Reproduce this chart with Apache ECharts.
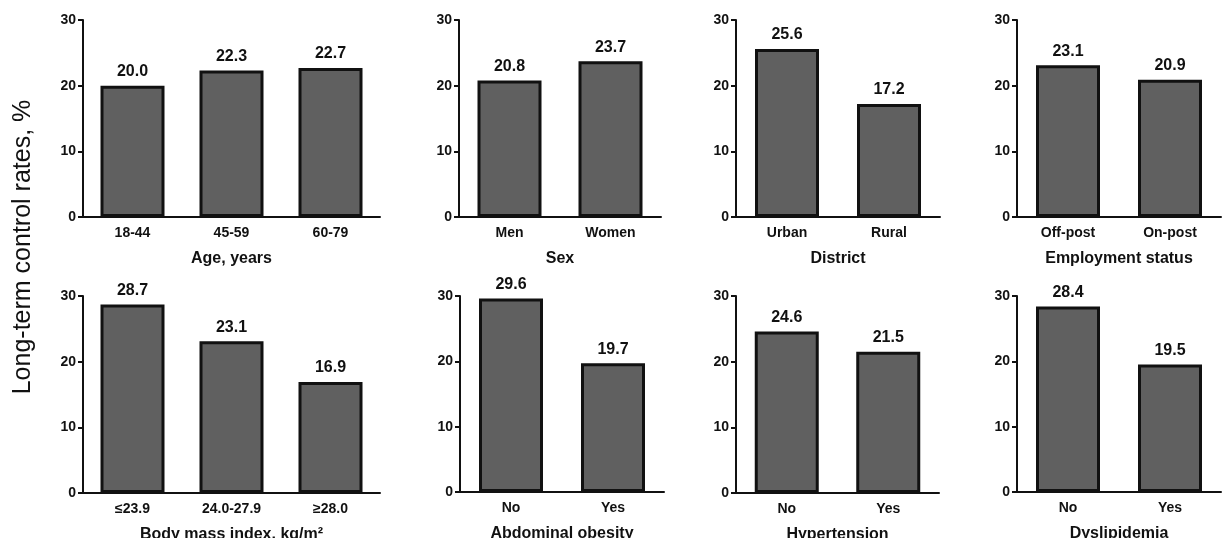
<!DOCTYPE html>
<html>
<head>
<meta charset="utf-8">
<style>
  html, body { margin: 0; padding: 0; background: #fff; }
  #chart { width: 1223px; height: 538px; }
</style>
<script src="https://cdn.jsdelivr.net/npm/echarts@6/dist/echarts.min.js"></script>
</head>
<body>
<div id="chart"></div>
<script>
// Long-term control rates (%) by subgroup
const ageCats = ['18-44', '45-59', '60-79'];
const ageVals = [20.0, 22.3, 22.7];
const sexCats = ['Men', 'Women'];
const sexVals = [20.8, 23.7];
const districtCats = ['Urban', 'Rural'];
const districtVals = [25.6, 17.2];
const employCats = ['Off-post', 'On-post'];
const employVals = [23.1, 20.9];
const bmiCats = ['≤23.9', '24.0-27.9', '≥28.0'];
const bmiVals = [28.7, 23.1, 16.9];
const obesityCats = ['No', 'Yes'];
const obesityVals = [29.6, 19.7];
const hypertensionCats = ['No', 'Yes'];
const hypertensionVals = [24.6, 21.5];
const dyslipidemiaCats = ['No', 'Yes'];
const dyslipidemiaVals = [28.4, 19.5];
const yTicks = [0, 10, 20, 30];

const panels = [
  { name: 'Age, years', cats: ageCats, vals: ageVals },
  { name: 'Sex', cats: sexCats, vals: sexVals },
  { name: 'District', cats: districtCats, vals: districtVals },
  { name: 'Employment status', cats: employCats, vals: employVals },
  { name: 'Body mass index, kg/m²', cats: bmiCats, vals: bmiVals },
  { name: 'Abdominal obesity', cats: obesityCats, vals: obesityVals },
  { name: 'Hypertension', cats: hypertensionCats, vals: hypertensionVals },
  { name: 'Dyslipidemia', cats: dyslipidemiaCats, vals: dyslipidemiaVals }
];

// grid boxes: left, top, width, height
const layout = [
  [83, 20, 297, 197], [459, 20, 202, 197], [736, 20, 204, 197], [1017, 20, 204, 197],
  [83, 296, 297, 197], [460, 296, 204, 196], [736, 296, 203, 197], [1017, 296, 204, 196]
];

const FONT = '"Liberation Sans", Arial, Helvetica, sans-serif';
const INK = '#111';

const grids = [], xAxes = [], yAxes = [], series = [];
panels.forEach((p, i) => {
  const [l, t, w, h] = layout[i];
  grids.push({ left: l, top: t, width: w, height: h, containLabel: false, outerBoundsMode: 'none' });
  xAxes.push({
    type: 'category', gridIndex: i, data: p.cats,
    name: p.name, nameLocation: 'middle', nameGap: 34,
    nameTextStyle: { fontFamily: FONT, fontWeight: 'bold', fontSize: 16, color: INK },
    axisLine: { lineStyle: { color: INK, width: 2 } },
    axisTick: { alignWithLabel: true, length: 5, lineStyle: { color: INK, width: 2 } },
    axisLabel: { fontFamily: FONT, fontWeight: 'bold', fontSize: 14, color: INK, margin: 9 }
  });
  yAxes.push({
    type: 'value', gridIndex: i, min: yTicks[0], max: yTicks[yTicks.length - 1], interval: 10,
    axisLine: { show: true, lineStyle: { color: INK, width: 2 } },
    axisTick: { show: true, length: 5, lineStyle: { color: INK, width: 2 } },
    axisLabel: { fontFamily: FONT, fontWeight: 'bold', fontSize: 14, color: INK, margin: 7 },
    splitLine: { show: false }
  });
  series.push({
    type: 'bar', xAxisIndex: i, yAxisIndex: i, data: p.vals,
    barWidth: 64,
    itemStyle: { color: '#606060', borderColor: INK, borderWidth: 3 },
    label: {
      show: true, position: 'top', distance: 6,
      fontFamily: FONT, fontWeight: 'bold', fontSize: 16, color: INK,
      formatter: (d) => d.value.toFixed(1)
    },
    silent: true
  });
});

const chart = echarts.init(document.getElementById('chart'), null, { renderer: 'canvas' });
chart.setOption({
  animation: false,
  backgroundColor: '#fff',
  grid: grids,
  xAxis: xAxes,
  yAxis: yAxes,
  series: series,
  graphic: [{
    type: 'text', x: 23, y: 247, rotation: Math.PI / 2,
    style: {
      text: 'Long-term control rates, %',
      font: '25px ' + FONT, fill: INK,
      align: 'center', verticalAlign: 'middle',
      textAlign: 'center', textVerticalAlign: 'middle'
    }
  }]
});
</script>
</body>
</html>
